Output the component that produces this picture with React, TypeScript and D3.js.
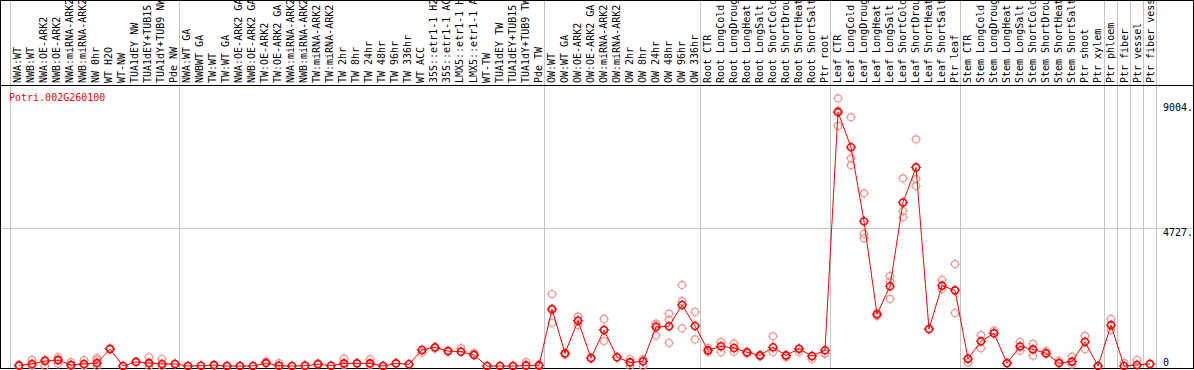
import React from 'react';
import * as d3 from 'd3';

const title = 'Potri.002G260100';

const labels: string[] = [
  'NWA:WT', 'NWB:WT', 'NWA:OE-ARK2', 'NWB:OE-ARK2', 'NWA:miRNA-ARK2', 'NWB:miRNA-ARK2', 'NW 0hr', 'WT H2O', 'WT-NW',
  'TUA1dEY NW', 'TUA1dEY+TUB15', 'TUA1dY+TUB9 NW', 'Pde NW',
  'NWA:WT GA', 'NWBWT GA', 'TW:WT', 'TW:WT GA', 'NWA:OE-ARK2 GA', 'NWB:OE-ARK2 GA', 'TW:OE-ARK2', 'TW:OE-ARK2 GA',
  'NWA:miRNA-ARK2', 'NWB:miRNA-ARK2', 'TW:miRNA-ARK2', 'TW:miRNA-ARK2', 'TW 2hr', 'TW 8hr', 'TW 24hr', 'TW 48hr',
  'TW 96hr', 'TW 336hr', 'WT ACC', '35S::etr1-1 H2', '35S::etr1-1 AC', 'LMX5::etr1-1 H', 'LMX5::etr1-1 A', 'WT-TW',
  'TUA1dEY TW', 'TUA1dEY+TUB15', 'TUA1dY+TUB9 TW', 'Pde TW',
  'OW:WT', 'OW:WT GA', 'OW:OE-ARK2', 'OW:OE-ARK2 GA', 'OW:miRNA-ARK2', 'OW:miRNA-ARK2', 'OW 2hr', 'OW 8hr', 'OW 24hr',
  'OW 48hr', 'OW 96hr', 'OW 336hr',
  'Root CTR', 'Root LongCold', 'Root LongDroug', 'Root LongHeat', 'Root LongSalt', 'Root ShortCold', 'Root ShortDrou',
  'Root ShortHeat', 'Root ShortSalt', 'Ptr root',
  'Leaf CTR', 'Leaf LongCold', 'Leaf LongDroug', 'Leaf LongHeat', 'Leaf LongSalt', 'Leaf ShortCold', 'Leaf ShortDrou',
  'Leaf ShortHeat', 'Leaf ShortSalt', 'Ptr leaf',
  'Stem CTR', 'Stem LongCold', 'Stem LongDroug', 'Stem LongHeat', 'Stem LongSalt', 'Stem ShortCold', 'Stem ShortDrou',
  'Stem ShortHeat', 'Stem ShortSalt', 'Ptr shoot', 'Ptr xylem',
  'Ptr phloem', 'Ptr fiber', 'Ptr vessel', 'Ptr fiber vess',
];

const means: number[] = [
  20, 70, 170, 200, 35, 70, 100, 580, 0, 140, 100, 70, 70,
  0, 10, 30, 0, 0, 0, 100, 10, 0, 10, 60, 10, 90, 90, 90, 0, 90, 60, 550, 640, 510, 490, 380, 0, 0, 0, 20, 20,
  1950, 435, 1550, 270, 1230, 300, 125, 160, 1335, 1360, 2090, 1370,
  535, 675, 615, 470, 365, 640, 365, 590, 340, 540,
  8690, 7490, 4955, 1770, 2730, 5600, 6800, 1265, 2750, 2590,
  250, 845, 1120, 95, 670, 570, 435, 100, 150, 830, 0,
  1400, 0, 35, 70,
];

const reps: number[][] = [
  [0, 30], [200, 20], [0, 220], [300, 70, 230], [130, 0], [200, 20], [270, 200, 0], [580, 600], [0], [140],
  [300, 0, 100], [240, 0], [70],
  [0], [0], [30], [0], [0], [0], [100, 150], [100, 0], [0], [0, 20], [60, 90], [0], [250, 30], [90], [230, 30],
  [0], [90], [60], [460, 550], [640, 600], [510], [610, 490], [440, 380], [0], [0], [0], [130, 0], [60, 0],
  [2465, 1480, 1900], [435, 380], [1690, 1400, 1550], [270], [1610, 855, 1230], [300], [240, 0, 125], [240, 0],
  [1450, 1040, 1400], [1790, 1580, 790], [2770, 2220, 1290], [1850, 910],
  [610, 480], [820, 470], [765, 490], [470, 430], [365, 330], [1015, 480], [365, 300], [590, 490], [340, 240], [420, 430],
  [9165, 8740, 8220], [8515, 7110, 6870], [5910, 4520, 4370], [1710, 1800], [3080, 2900, 2295], [6425, 5305, 5090],
  [7760, 6400, 6160], [1265], [2945, 2630], [3490, 1815],
  [250, 120], [1060, 605], [1210, 1120], [95, 100], [830, 525], [755, 355], [510, 410], [180], [320, 50], [1030, 570], [0],
  [1610, 1230], [110], [205], [70],
];

const yTicks: number[] = [0, 4727, 9004];
const gridValues: number[] = [4727];
const groupStarts: number[] = [0, 13, 41, 53, 63, 73, 84, 85, 86, 87, 88];

const FONT = '"DejaVu Sans Mono", monospace';
const RED = '#ff0000';
const PINK = '#ef9696';

function Marker({ cx, cy, color, sw }: { cx: number; cy: number; color: string; sw: number }) {
  const r = 3.5;
  const t = 5.2;
  const d = `M0,${-t}V${-r}M0,${r}V${t}M${-t},0H${-r}M${r},0H${t}`;
  return (
    <g transform={`translate(${cx},${cy})`}>
      <circle r={r} fill="none" stroke={color} strokeWidth={sw} />
      <path d={d} stroke={color} strokeWidth={1} />
    </g>
  );
}

export default function App() {
  const W = 1194;
  const H = 370;
  const n = means.length;
  const x = d3.scaleLinear().domain([0, n - 1]).range([19, 1150]);
  const col = d3.scaleLinear().domain([0, 88]).range([10, 10 + 13.02 * 88]);
  const y = d3.scaleLinear().domain([0, 9004]).range([366, 103]);
  const lineGen = d3.line<number>().x((_, i) => x(i)).y((d) => y(d));
  const px = (v: number) => Math.round(v) + 0.5;

  return (
    <svg width={W} height={H} style={{ position: 'fixed', left: 0, top: 0, background: '#fff' }}>
      <rect x={0} y={0} width={W} height={H} fill="#fff" />
      {groupStarts.map((k) => (
        <line key={'v' + k} x1={px(col(k))} x2={px(col(k))} y1={0} y2={369} stroke="#c4c4c4" strokeWidth={1} />
      ))}
      {gridValues.map((v) => (
        <line key={'h' + v} x1={0} x2={1193} y1={px(y(v))} y2={px(y(v))} stroke="#c4c4c4" strokeWidth={1} />
      ))}
      {labels.map((s, i) => (
        <text
          key={'l' + i}
          transform={`translate(${col(i) + 10.8},83) rotate(-90)`}
          fontFamily={FONT}
          fontSize={10}
          fill="#000"
        >
          {s}
        </text>
      ))}
      <line x1={0} x2={1194} y1={85.5} y2={85.5} stroke="#000" strokeWidth={1} />
      <rect x={0.5} y={0.5} width={1193} height={368} fill="none" stroke="#000" strokeWidth={1} />
      <text x={9} y={101} fontFamily={FONT} fontSize={10} fill={RED}>
        {title}
      </text>
      {yTicks.map((v) => (
        <text key={'t' + v} x={1163} y={v === 0 ? y(0) : y(v) + 8} fontFamily={FONT} fontSize={10} fill="#000">
          {v === 0 ? '0' : `${v}.`}
        </text>
      ))}
      {reps.map((rs, i) =>
        rs.map((v, j) => <Marker key={`r${i}-${j}`} cx={x(i)} cy={y(v)} color={PINK} sw={1.2} />)
      )}
      <path d={lineGen(means) || ''} fill="none" stroke={RED} strokeWidth={1} />
      {means.map((v, i) => (
        <Marker key={'m' + i} cx={x(i)} cy={y(v)} color={RED} sw={1.6} />
      ))}
    </svg>
  );
}
